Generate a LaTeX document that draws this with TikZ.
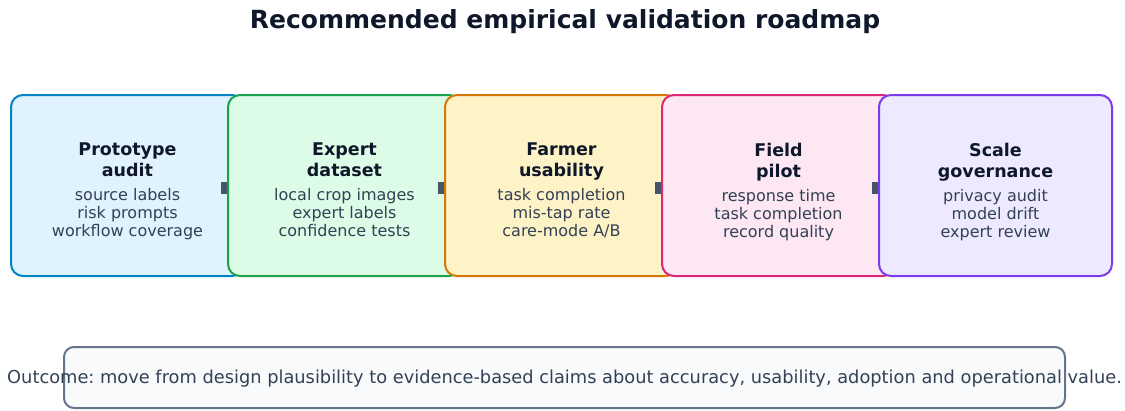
\documentclass[tikz,border=0pt]{standalone}
\usepackage{fontspec}
\setmainfont{DejaVu Sans}
\usetikzlibrary{positioning}

\definecolor{headtxt}{HTML}{0F172A}
\definecolor{bodytxt}{HTML}{334155}
\definecolor{linkgray}{HTML}{475569}
\definecolor{protoline}{HTML}{0284C7}
\definecolor{protofill}{HTML}{E0F2FE}
\definecolor{expertline}{HTML}{16A34A}
\definecolor{expertfill}{HTML}{DCFCE7}
\definecolor{farmerline}{HTML}{D97706}
\definecolor{farmerfill}{HTML}{FEF3C7}
\definecolor{fieldline}{HTML}{DB2777}
\definecolor{fieldfill}{HTML}{FCE7F3}
\definecolor{scaleline}{HTML}{7C3AED}
\definecolor{scalefill}{HTML}{EDE9FE}
\definecolor{outline}{HTML}{64748B}
\definecolor{outfill}{HTML}{F8FAFC}

\newcommand{\stagehead}[1]{{\bfseries\fontsize{17.5}{19}\selectfont\color{headtxt}#1}}

\tikzset{
  stage/.style={draw, line width=2pt, rounded corners=12pt, minimum width=233pt,
    minimum height=181pt, inner sep=0pt},
  stagetext/.style={align=center, text=bodytxt, inner sep=0pt, anchor=north,
    font=\fontsize{16}{18}\selectfont},
  link/.style={draw=linkgray, line width=12pt},
  outbox/.style={draw=outline, fill=outfill, line width=2pt, rounded corners=10pt,
    minimum width=1001pt, minimum height=61pt},
}

\begin{document}
\frenchspacing
\begin{tikzpicture}[x=1pt,y=-1pt]
\useasboundingbox (0,0) rectangle (1125,410);
\node[font=\bfseries\fontsize{25}{28}\selectfont, text=headtxt] (title) at (565,22) {Recommended empirical validation roadmap};

% the five stages, left to right
\node[stage, draw=protoline, fill=protofill] (proto) at (127.5,185.5) {};
\node[stage, draw=expertline, fill=expertfill, right=-18pt of proto] (expert) {};
\node[stage, draw=farmerline, fill=farmerfill, right=-18pt of expert] (farmer) {};
\node[stage, draw=fieldline, fill=fieldfill, right=-18pt of farmer] (field) {};
\node[stage, draw=scaleline, fill=scalefill, right=-18pt of field] (scale) {};

\node[stagetext] (prototext) at ([yshift=-48.5pt]proto.north)
  {\stagehead{Prototype}\\[3pt] \stagehead{audit}\\[6pt] source labels\\ risk prompts\\ workflow coverage};
\node[stagetext] (experttext) at ([yshift=-48.5pt]expert.north)
  {\stagehead{Expert}\\[3pt] \stagehead{dataset}\\[6pt] local crop images\\ expert labels\\ confidence tests};
\node[stagetext] (farmertext) at ([yshift=-48.5pt]farmer.north)
  {\stagehead{Farmer}\\[3pt] \stagehead{usability}\\[6pt] task completion\\ mis-tap rate\\ care-mode A/B};
\node[stagetext] (fieldtext) at ([yshift=-48.5pt]field.north)
  {\stagehead{Field}\\[3pt] \stagehead{pilot}\\[6pt] response time\\ task completion\\ record quality};
\node[stagetext] (scaletext) at ([yshift=-48.5pt]scale.north)
  {\stagehead{Scale}\\[3pt] \stagehead{governance}\\[6pt] privacy audit\\ model drift\\ expert review};

% links, mostly hidden under the next box
\draw[link] ([xshift=-6pt,yshift=-2.5pt]expert.west) -- ([yshift=-2.5pt]expert.west);
\draw[link] ([xshift=-6pt,yshift=-2.5pt]farmer.west) -- ([yshift=-2.5pt]farmer.west);
\draw[link] ([xshift=-6pt,yshift=-2.5pt]field.west) -- ([yshift=-2.5pt]field.west);
\draw[link] ([xshift=-6pt,yshift=-2.5pt]scale.west) -- ([yshift=-2.5pt]scale.west);

\node[outbox] (outcome) at (564.5,377.5) {};
\node[font=\fontsize{17.8}{20}\selectfont, text=bodytxt] (outtext) at ([yshift=-1.5pt]outcome.center) {Outcome: move from design plausibility to evidence-based claims about accuracy, usability, adoption and operational value.};
\end{tikzpicture}
\end{document}
